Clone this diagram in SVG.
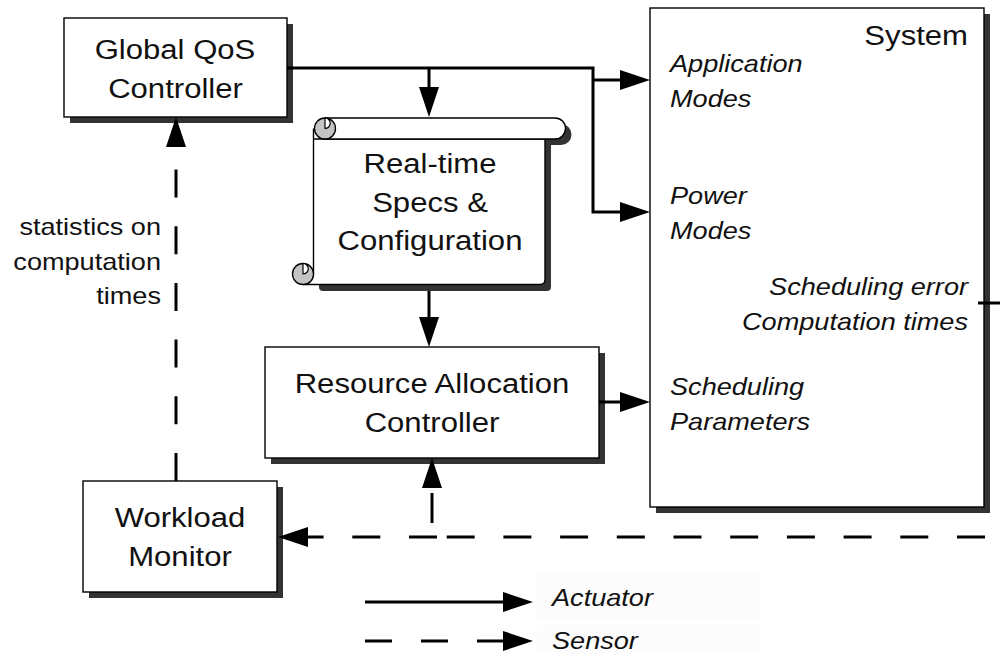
<svg xmlns="http://www.w3.org/2000/svg" width="1000" height="653" viewBox="0 0 1000 653">
<style>
.box{fill:#fff;stroke:#000;stroke-width:1.4}
.sh{fill:#333;stroke:none}
.t{font-family:"Liberation Sans",Arial,Helvetica,sans-serif;font-size:28px;fill:#111}
.ti{font-family:"Liberation Sans",Arial,Helvetica,sans-serif;font-size:24px;font-style:italic;fill:#111}
.ts{font-family:"Liberation Sans",Arial,Helvetica,sans-serif;font-size:24px;fill:#111}
.m{text-anchor:middle}
.e{text-anchor:end}
.ln{fill:none;stroke:#000;stroke-width:3}
.ds{fill:none;stroke:#000;stroke-width:3;stroke-dasharray:28 28.7}
.curl{fill:#c4c4c4;stroke:#000;stroke-width:1.3}
.curlin{fill:#fff;stroke:#000;stroke-width:1.2}
</style>
<defs>
<marker id="arr" viewBox="0 0 30 20" refX="22" refY="10" markerWidth="30" markerHeight="20" markerUnits="userSpaceOnUse" orient="auto">
<path d="M0,0 L30,10 L0,20 Z" fill="#000" stroke="none"/>
</marker>
</defs>
<rect width="1000" height="653" fill="#fff"/>

<g id="legend-bg">
<rect x="537" y="573" width="223" height="45" fill="#fcfcfc"/>
<rect x="537" y="625" width="223" height="28" fill="#fcfcfc"/>
</g>

<g id="system">
<rect class="sh" x="656" y="14" width="334" height="499"/>
<rect class="box" x="650" y="8" width="334" height="499"/>
<text class="t e" transform="translate(968 45) scale(1.11 1)">System</text>
<text class="ti" transform="translate(670 72) scale(1.13 1)">Application</text>
<text class="ti" transform="translate(670 107) scale(1.13 1)">Modes</text>
<text class="ti" transform="translate(670 204) scale(1.13 1)">Power</text>
<text class="ti" transform="translate(670 239) scale(1.13 1)">Modes</text>
<text class="ti e" transform="translate(968 295) scale(1.13 1)">Scheduling error</text>
<text class="ti e" transform="translate(968 330) scale(1.13 1)">Computation times</text>
<text class="ti" transform="translate(670 395) scale(1.13 1)">Scheduling</text>
<text class="ti" transform="translate(670 430) scale(1.13 1)">Parameters</text>
</g>

<g id="global-qos">
<rect class="sh" x="70" y="24" width="223" height="99"/>
<rect class="box" x="64" y="18" width="223" height="99"/>
<text class="t m" transform="translate(175 59) scale(1.11 1)">Global QoS</text>
<text class="t m" transform="translate(175.5 98) scale(1.11 1)">Controller</text>
</g>

<g id="specs">
<path class="sh" d="M331,124 H561 A10.5,10.5 0 0 1 561,145 H331 Z"/>
<rect class="sh" x="319" y="135" width="232" height="156" rx="4"/>
<path class="box" d="M313.5,128.5 V274 A10.5,10.5 0 0 1 303,284.5 H540 Q545,284.5 545,279.5 V139 H313.5 Z" stroke-width="1.5"/>
<path class="box" d="M325,118 H555 A10.5,10.5 0 0 1 555,139 H325 Z" stroke-width="1.5"/>
<circle class="curl" cx="325" cy="128.5" r="10.5"/>
<path class="curlin" d="M325,118 A5.25,5.25 0 0 1 325,128.5 Z"/>
<circle class="curl" cx="303" cy="274" r="10.5"/>
<path class="curlin" d="M303,263.5 A5.25,5.25 0 0 1 303,274 Z"/>
<text class="t m" transform="translate(430 173) scale(1.11 1)">Real-time</text>
<text class="t m" transform="translate(430 212) scale(1.11 1)">Specs &amp;</text>
<text class="t m" transform="translate(430 250) scale(1.11 1)">Configuration</text>
</g>

<g id="resource-allocation">
<rect class="sh" x="271" y="353" width="334" height="111"/>
<rect class="box" x="265" y="347" width="334" height="111"/>
<text class="t m" transform="translate(432 393) scale(1.11 1)">Resource Allocation</text>
<text class="t m" transform="translate(432 432) scale(1.11 1)">Controller</text>
</g>

<g id="workload-monitor">
<rect class="sh" x="89" y="487" width="194" height="111"/>
<rect class="box" x="83" y="481" width="194" height="111"/>
<text class="t m" transform="translate(180 527) scale(1.11 1)">Workload</text>
<text class="t m" transform="translate(180 566) scale(1.11 1)">Monitor</text>
</g>

<g id="connectors">
<path class="ln" d="M287,68 H593 V212 H642" marker-end="url(#arr)"/>
<path class="ln" d="M593,80 H642" marker-end="url(#arr)"/>
<path class="ln" d="M429,68 V109" marker-end="url(#arr)"/>
<path class="ln" d="M429,291 V339" marker-end="url(#arr)"/>
<path class="ln" d="M599,402 H642" marker-end="url(#arr)"/>
<path class="ln" d="M978,303 H1000"/>
<path class="ds" d="M985,537 H437"/>
<path class="ds" d="M437,537 H286" marker-end="url(#arr)"/>
<path class="ln" d="M432,523 V466" stroke-dasharray="30 100" marker-end="url(#arr)"/>
<path class="ds" d="M176,481 V125" marker-end="url(#arr)"/>
<text class="ts e" transform="translate(161 235) scale(1.13 1)">statistics on</text>
<text class="ts e" transform="translate(161 269.5) scale(1.13 1)">computation</text>
<text class="ts e" transform="translate(161 304) scale(1.13 1)">times</text>
</g>

<g id="legend">
<path class="ln" d="M365,602 H525" marker-end="url(#arr)"/>
<path class="ln" d="M365,641 H525" stroke-dasharray="27 29" marker-end="url(#arr)"/>
<text class="ti" transform="translate(552 606) scale(1.13 1)">Actuator</text>
<text class="ti" transform="translate(552 649) scale(1.13 1)">Sensor</text>
</g>
</svg>
